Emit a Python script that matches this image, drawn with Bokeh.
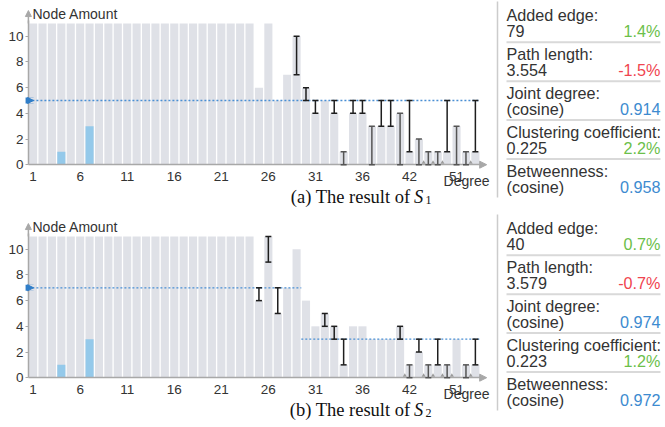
from bokeh.plotting import figure
from bokeh.layouts import column
from bokeh.models import (ColumnDataSource, Whisker, TeeHead, Arrow, NormalHead,
                          FixedTicker, Range1d)
from bokeh.embed import file_html
from bokeh.resources import INLINE
from bokeh.core.properties import value

# ---------------- data ----------------
degrees = [1, 2, 3, 4, 5, 6, 7, 8, 9, 10, 11, 12, 13, 14, 15, 16, 17, 18, 19, 20,
           21, 22, 23, 24, 25, 26, 27, 28, 29, 30, 31, 32, 33, 34, 35, 36, 37, 38, 39,
           41, 42, 44, 45, 47, 49, 51, 53, 56]
node_amount = [11, 11, 11, 11, 11, 11, 11, 11, 11, 11, 11, 11, 11, 11, 11, 11, 11, 11, 11, 11,
               11, 11, 11, 11, 6, 11, 5, 7, 10, 6, 4, 5, 4, 1, 4, 4, 3, 3, 3,
               4, 1, 2, 1, 1, 1, 3, 1, 1]
tick_degrees = [1, 6, 11, 16, 21, 26, 31, 36, 42, 51]
highlight_degrees = [4, 7]
highlight_amount = [1, 3]

# S1
s1_target_start = [1]
s1_target_end = [56]
s1_target_value = [5]
s1_change_degree = [29, 30, 31, 33, 34, 35, 36, 37, 38, 39, 41, 42, 44, 45, 47, 49, 51, 53, 56]
s1_change_low = [7, 5, 4, 4, 0, 4, 4, 0, 3, 3, 0, 1, 0, 0, 0, 1, 0, 0, 1]
s1_change_high = [10, 6, 5, 5, 1, 5, 5, 3, 5, 5, 4, 5, 2, 1, 1, 5, 3, 1, 5]
s1_arrow_degrees = [45, 47, 49, 56]
s1_metric_left = ["79", "3.554", "(cosine)", "0.225", "(cosine)"]
s1_metric_right = ["1.4%", "-1.5%", "0.914", "2.2%", "0.958"]

# S2
s2_target_start = [1, 30]
s2_target_end = [29, 56]
s2_target_value = [7, 3]
s2_change_degree = [25, 26, 27, 32, 33, 34, 41, 42, 44, 45, 47, 49, 53, 56]
s2_change_low = [6, 9, 5, 4, 3, 1, 3, 0, 2, 0, 1, 0, 0, 1]
s2_change_high = [7, 11, 7, 5, 4, 3, 4, 1, 3, 1, 3, 1, 1, 3]
s2_arrow_degrees = [42, 45, 47, 49, 51, 56]
s2_metric_left = ["40", "3.579", "(cosine)", "0.223", "(cosine)"]
s2_metric_right = ["0.7%", "-0.7%", "0.974", "1.2%", "0.972"]

metric_names = ["Added edge:", "Path length:", "Joint degree:", "Clustering coefficient:", "Betweenness:"]
metric_kind = ["pos", "neg", "sim", "pos", "sim"]

# ---------------- styling / layout ----------------
GRAY_BAR = "#dfe1e7"
BLUE_BAR = "#94c9ea"
TARGET = "#4a8fd4"
TAG = "#2f7dc8"
TEXT = "#333333"
AXIS = "#a8a8a8"
KIND_COLOR = {"pos": "#6cc04a", "neg": "#f0454f", "sim": "#3d8bd0"}
SANS = "Liberation Sans"
SERIF = "Liberation Serif"

W = 665
PX_PER_SLOT = 9.41
X_ORIGIN = 27.9      # pixel of the left edge of the first slot
PX_PER_UNIT = 12.845
Y_ZERO = 164.2       # pixel of the zero line inside a row


def slot(d):
    return degrees.index(d)


def mid(baseline, size):
    # vertical middle of a text line whose alphabetic baseline is given
    return baseline - 0.3 * size


def make_row(H, tag, sub, t_start, t_end, t_val, c_deg, c_lo, c_hi, a_deg, left_vals, right_vals):
    x0 = -0.5 - X_ORIGIN / PX_PER_SLOT
    x1 = -0.5 + (W - X_ORIGIN) / PX_PER_SLOT
    y0 = -(H - Y_ZERO) / PX_PER_UNIT
    y1 = Y_ZERO / PX_PER_UNIT
    p = figure(width=W, height=H, x_range=Range1d(x0, x1), y_range=Range1d(y0, y1),
               output_backend="svg", toolbar_location=None, min_border=0)
    p.extra_x_ranges = {"px": Range1d(0, W)}
    p.extra_y_ranges = {"px": Range1d(H, 0)}
    px = dict(x_range_name="px", y_range_name="px")
    p.outline_line_color = None
    p.xgrid.visible = False
    p.ygrid.visible = False
    p.background_fill_color = "white"
    p.border_fill_color = "white"

    xs = list(range(len(degrees)))
    p.vbar(x=xs, top=node_amount, width=0.86, fill_color=GRAY_BAR, line_color=None)
    p.vbar(x=[slot(d) for d in highlight_degrees], top=highlight_amount, width=0.86,
           fill_color=BLUE_BAR, line_color=None)

    p.segment(x0=[slot(d) - 0.5 for d in t_start], x1=[slot(d) + 0.5 for d in t_end],
              y0=t_val, y1=t_val, line_color=TARGET, line_dash="2 2", line_width=1.3)

    for dark in (False, True):
        idx = [i for i in range(len(c_deg)) if (c_lo[i] == 0) == dark]
        src = ColumnDataSource(dict(x=[slot(c_deg[i]) for i in idx],
                                    lo=[c_lo[i] for i in idx],
                                    hi=[c_hi[i] for i in idx]))
        col = "#555555" if dark else "#1e1e1e"
        p.add_layout(Whisker(source=src, base="x", lower="lo", upper="hi", dimension="height",
                             level="annotation", line_color=col, line_width=1.5,
                             lower_head=TeeHead(size=6, line_color=col, line_width=1.5),
                             upper_head=TeeHead(size=6, line_color=col, line_width=1.5)))

    p.scatter(x=[slot(d) - 0.5 for d in a_deg], y=[0.17] * len(a_deg), marker="triangle",
              size=4, fill_color="#9a9a9a", line_color=None)

    # axes drawn by bokeh at fixed locations
    p.xaxis.fixed_location = 0
    p.xaxis.bounds = (-0.5, 47.6)
    p.xaxis.ticker = FixedTicker(ticks=[slot(d) for d in tick_degrees])
    p.xaxis.major_label_overrides = {slot(d): str(d) for d in tick_degrees}
    p.xaxis.major_tick_line_color = None
    p.xaxis.minor_tick_line_color = None
    p.xaxis.axis_line_color = AXIS
    p.xaxis.axis_line_width = 1.5
    p.xaxis.major_label_standoff = 1
    p.yaxis.fixed_location = -0.5
    p.yaxis.bounds = (0, 11.2)
    p.yaxis.ticker = FixedTicker(ticks=[0, 2, 4, 6, 8, 10])
    p.yaxis.major_tick_in = 0
    p.yaxis.major_tick_out = 3
    p.yaxis.major_tick_line_color = AXIS
    p.yaxis.minor_tick_line_color = None
    p.yaxis.axis_line_color = AXIS
    p.yaxis.axis_line_width = 1.5
    p.yaxis.major_label_standoff = 2
    for ax in (p.xaxis[0], p.yaxis[0]):
        ax.major_label_text_font = SANS
        ax.major_label_text_font_size = "13.5px"
        ax.major_label_text_color = TEXT

    # axis arrows
    p.add_layout(Arrow(x_start=-0.5, x_end=-0.5, y_start=11.0, y_end=12.0, line_color=AXIS,
                       line_width=1.5, end=NormalHead(size=6, fill_color=AXIS, line_color=AXIS)))
    p.add_layout(Arrow(x_start=47.5, x_end=48.2, y_start=0, y_end=0, line_color=AXIS,
                       line_width=1.5, end=NormalHead(size=7, fill_color=AXIS, line_color=AXIS)))

    # tag marker on the y axis at the first target level
    p.add_layout(Arrow(x_start=-0.8, x_end=0.05, y_start=t_val[0], y_end=t_val[0],
                       line_color=TAG, line_width=6,
                       end=NormalHead(size=6, fill_color=TAG, line_color=TAG)))

    # texts placed in pixel space (middle baseline)
    p.text(x=[32], y=[mid(17.3, 14)], text=["Node Amount"], text_font=value(SANS),
           text_font_size=value("14px"), text_color=TEXT, text_baseline="middle", **px)
    p.text(x=[489], y=[mid(184.3, 14)], text=["Degree"], text_font=value(SANS), text_align="right",
           text_font_size=value("14px"), text_color=TEXT, text_baseline="middle", **px)
    cap_base = 202.5
    cfs = 18.5
    p.text(x=[410], y=[mid(cap_base, cfs)], text=["(%s) The result of" % tag], text_font=value(SERIF),
           text_font_size=value("%spx" % cfs), text_color="#111111", text_align="right",
           text_baseline="middle", **px)
    p.text(x=[413.5], y=[mid(cap_base, cfs)], text=["S"], text_font=value(SERIF),
           text_font_style="italic", text_font_size=value("%spx" % cfs), text_color="#111111",
           text_baseline="middle", **px)
    p.text(x=[425], y=[mid(cap_base + 1, 12)], text=[sub], text_font=value(SERIF),
           text_font_size=value("12px"), text_color="#111111", text_baseline="middle", **px)

    # right panel
    p.segment(x0=[497], x1=[497], y0=[1], y1=[197], line_color="#cccccc", line_width=1.5, **px)
    base = [19.6 + 38.9 * i for i in range(len(metric_names))]
    p.segment(x0=[506] * 4, x1=[660] * 4, y0=[b + 22.2 for b in base[:4]],
              y1=[b + 22.2 for b in base[:4]], line_color="#d9d9d9", line_width=2, **px)
    fs = 16.2
    font = dict(text_font=value(SANS), text_font_size=value("%spx" % fs), text_baseline="middle")
    p.text(x=[506] * 5, y=[mid(b, fs) for b in base], text=metric_names, text_color=TEXT, **font, **px)
    p.text(x=[506] * 5, y=[mid(b + 15.8, fs) for b in base], text=left_vals, text_color=TEXT,
           **font, **px)
    p.text(x=[660] * 5, y=[mid(b + 15.8, fs) for b in base], text=right_vals,
           text_color=[KIND_COLOR[k] for k in metric_kind], text_align="right", **font, **px)
    return p


p1 = make_row(213, "a", "1", s1_target_start, s1_target_end, s1_target_value,
              s1_change_degree, s1_change_low, s1_change_high, s1_arrow_degrees,
              s1_metric_left, s1_metric_right)
p2 = make_row(214, "b", "2", s2_target_start, s2_target_end, s2_target_value,
              s2_change_degree, s2_change_low, s2_change_high, s2_arrow_degrees,
              s2_metric_left, s2_metric_right)

layout = column(p1, p2)
open("out.html", "w").write(file_html(layout, INLINE))
